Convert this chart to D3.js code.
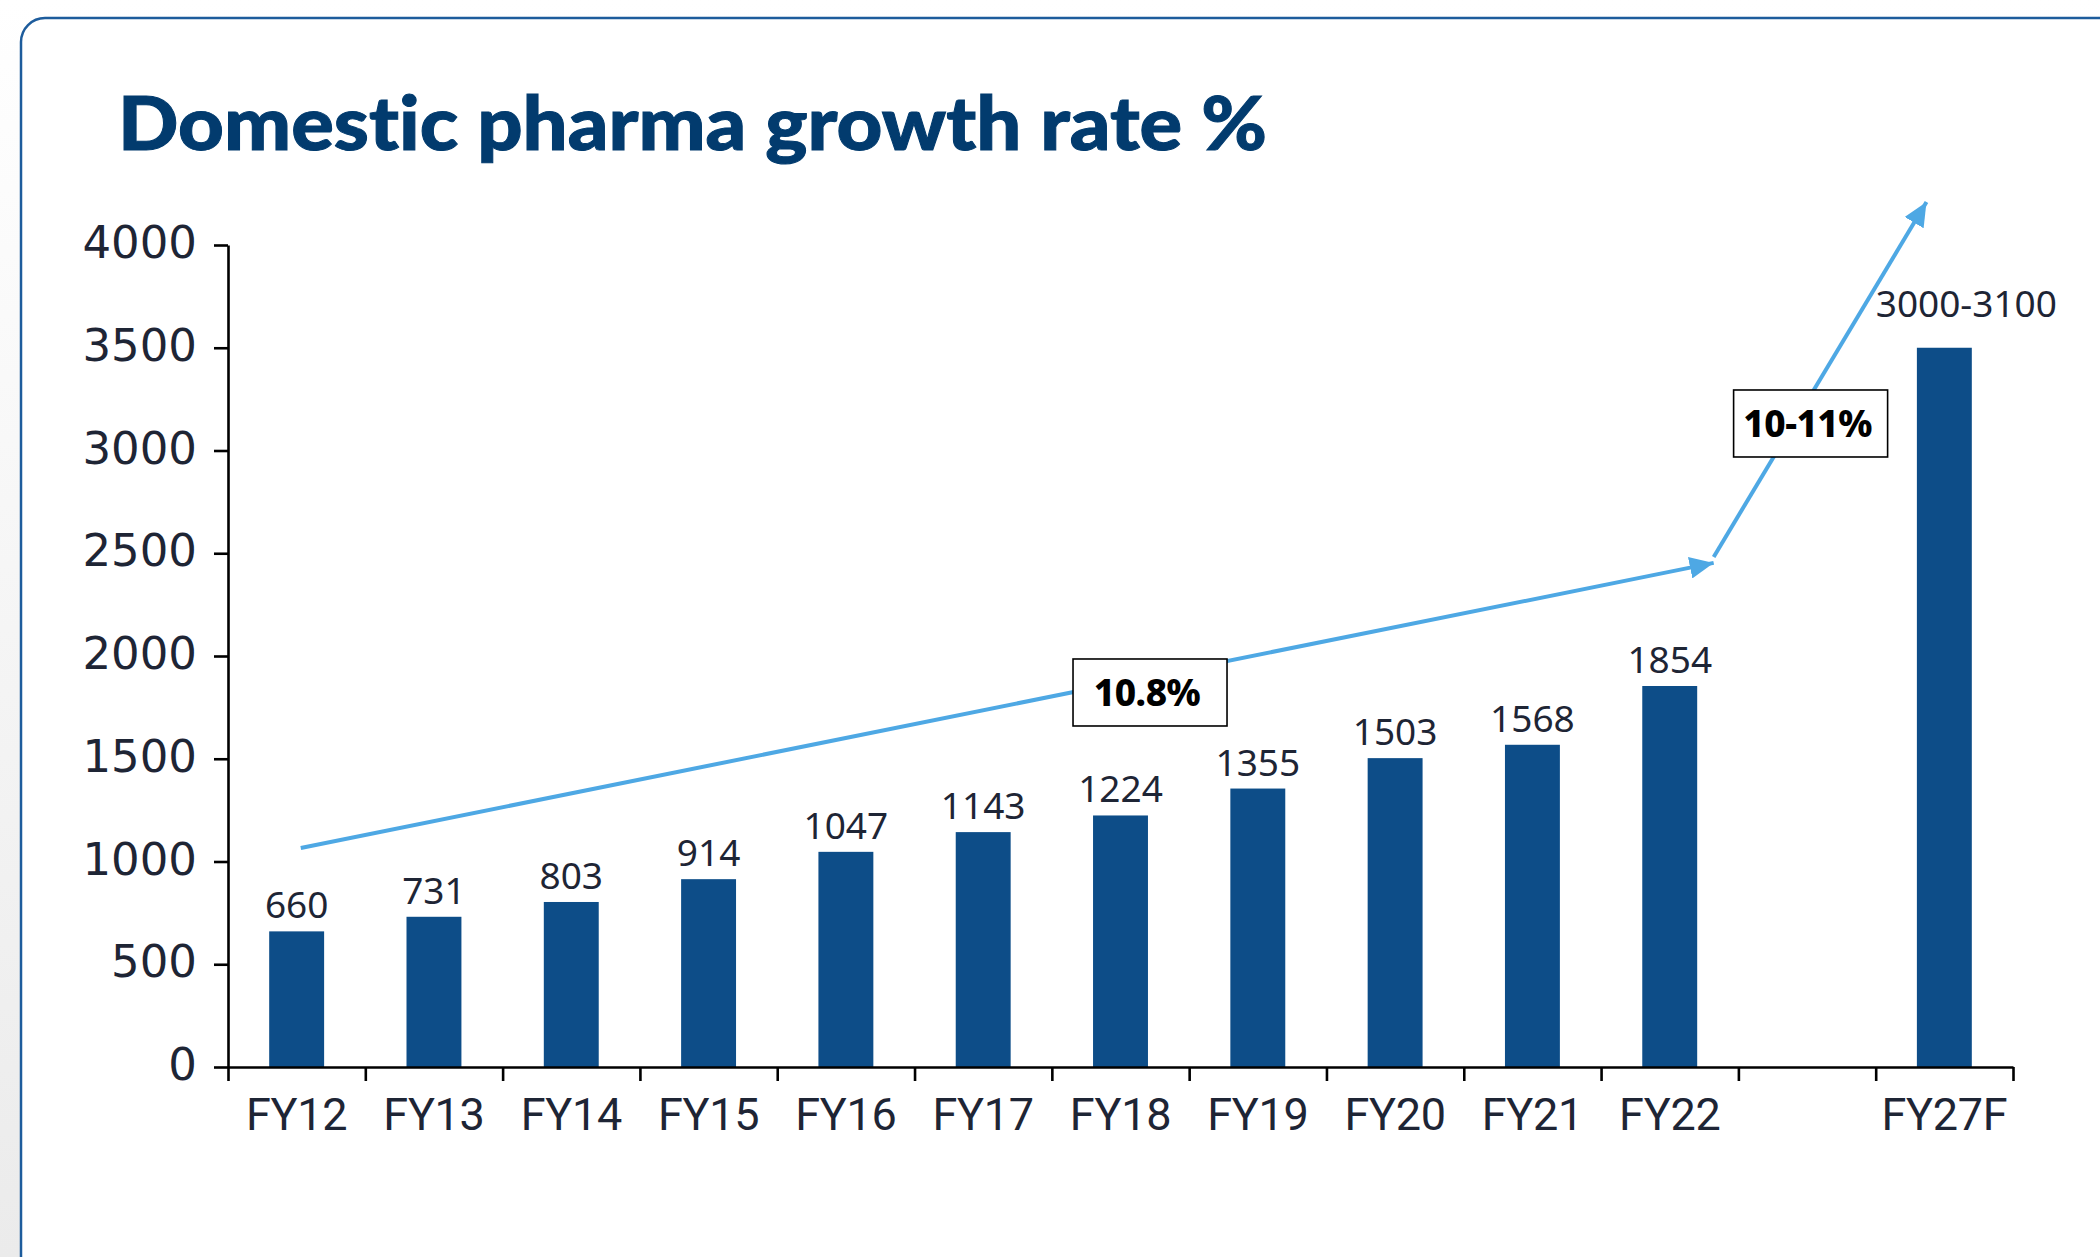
<!DOCTYPE html>
<html>
<head>
<meta charset="utf-8">
<script src="https://cdn.jsdelivr.net/npm/d3@7"></script>
<style>
  html, body { margin: 0; padding: 0; background: #ffffff; }
  svg { display: block; }
  text { font-variant-ligatures: none; }
</style>
</head>
<body>
<script>
// ---------- data ----------
const title = "Domestic pharma growth rate %";
const categories = ["FY12","FY13","FY14","FY15","FY16","FY17","FY18","FY19","FY20","FY21","FY22"," ","FY27F"];
const values = [660, 731, 803, 914, 1047, 1143, 1224, 1355, 1503, 1568, 1854, null, 3500];
const valueLabels = ["660","731","803","914","1047","1143","1224","1355","1503","1568","1854","","3000-3100"];
const yTicks = [0, 500, 1000, 1500, 2000, 2500, 3000, 3500, 4000];
// trend arrows: [slot position along x (in category units), value]
const trendHist = [[0.53, 1066], [10.82, 2453]];
const trendFcst = [[10.82, 2482], [12.37, 4209]];
// CAGR callouts: [slot position, value, text]
const callouts = [[6.715, 1820, "10.8%"], [11.526, 3129, "10-11%"]];

// ---------- layout ----------
const W = 2100, H = 1257;
const mLeft = 228, mRight = 2013, mTop = 245, mBottom = 1067;

const svg = d3.select("body").append("svg").attr("width", W).attr("height", H);
const defs = svg.append("defs");
const bg = defs.append("linearGradient").attr("id", "bg").attr("x1", 0).attr("y1", 0).attr("x2", 0).attr("y2", 1);
bg.append("stop").attr("offset", "0%").attr("stop-color", "#ffffff");
bg.append("stop").attr("offset", "100%").attr("stop-color", "#ebebeb");
svg.append("rect").attr("width", W).attr("height", H).attr("fill", "url(#bg)");

// panel card
svg.append("rect").attr("x", 21).attr("y", 18).attr("width", 2300).attr("height", 1500)
  .attr("rx", 24).attr("fill", "#ffffff").attr("stroke", "#1d5c9c").attr("stroke-width", 2.5);

// title
svg.append("text").attr("x", 118).attr("y", 150)
  .attr("font-family", "Lato, 'Noto Sans', sans-serif").attr("font-weight", 900)
  .attr("font-size", 75).attr("fill", "#023b6e")
  .attr("stroke", "#023b6e").attr("stroke-width", 1)
  .attr("textLength", 1149).attr("lengthAdjust", "spacingAndGlyphs")
  .text(title);

// scales
const x = d3.scaleBand().domain(categories).range([mLeft, mRight]).padding(0);
const slot = d3.scaleLinear().domain([0, categories.length]).range([mLeft, mRight]);
const y = d3.scaleLinear().domain([0, 4000]).range([mBottom, mTop]);
const bw = x.bandwidth();
const barW = bw * 0.4;

const rows = categories.map((c, i) => ({c, v: values[i], l: valueLabels[i]})).filter(d => d.v != null);

// bars
svg.append("g").selectAll("rect")
  .data(rows)
  .join("rect")
  .attr("x", d => x(d.c) + (bw - barW) / 2)
  .attr("y", d => y(d.v))
  .attr("width", barW)
  .attr("height", d => y(0) - y(d.v))
  .attr("fill", "#0d4d88");

// value labels
svg.append("g").selectAll("text")
  .data(rows)
  .join("text")
  .attr("x", d => x(d.c) + bw / 2 + (d.l.includes("-") ? 22 : 0))
  .attr("y", d => y(d.v) - (d.l.includes("-") ? 31 : 13))
  .attr("text-anchor", "middle")
  .attr("font-family", "'Noto Sans', sans-serif").attr("font-size", 37)
  .attr("fill", "#1e2535")
  .text(d => d.l);

// y axis
const yAxis = svg.append("g").attr("transform", `translate(${mLeft},0)`)
  .call(d3.axisLeft(y).tickValues(yTicks).tickFormat(d => String(d)).tickSize(14).tickSizeOuter(0).tickPadding(17));
yAxis.selectAll("text").attr("font-family", "'DejaVu Sans', sans-serif").attr("font-size", 45)
  .attr("fill", "#1e2535").attr("dy", "0.28em");
yAxis.selectAll("line, path").attr("stroke", "#000").attr("stroke-width", 2.6);

// x axis: boundary ticks
const xTicksG = svg.append("g").attr("transform", `translate(0,${mBottom})`)
  .call(d3.axisBottom(slot).tickValues(d3.range(0, categories.length + 1)).tickFormat("").tickSize(14).tickSizeOuter(0));
xTicksG.selectAll("line, path").attr("stroke", "#000").attr("stroke-width", 2.6);

// x axis labels
const xLab = svg.append("g").attr("transform", `translate(0,${mBottom})`)
  .call(d3.axisBottom(x).tickSize(0).tickPadding(31));
xLab.select(".domain").remove();
xLab.selectAll("text").attr("font-family", "Roboto, sans-serif").attr("font-size", 45)
  .attr("fill", "#1e2535").attr("letter-spacing", -0.3);

// arrow marker
defs.append("marker").attr("id", "arrow").attr("markerUnits", "userSpaceOnUse")
  .attr("viewBox", "0 0 24 22").attr("refX", 24).attr("refY", 11)
  .attr("markerWidth", 24).attr("markerHeight", 22).attr("orient", "auto")
  .append("path").attr("d", "M0,0 L24,11 L0,22 Z").attr("fill", "#4ea8e4");

const line = d3.line().x(d => slot(d[0])).y(d => y(d[1]));
[trendHist, trendFcst].forEach(t => {
  svg.append("path").datum(t).attr("d", line)
    .attr("fill", "none").attr("stroke", "#4ea8e4").attr("stroke-width", 4)
    .attr("marker-end", "url(#arrow)");
});

// callout boxes
const cg = svg.append("g").selectAll("g").data(callouts).join("g")
  .attr("transform", d => `translate(${slot(d[0])},${y(d[1])})`);
cg.append("rect").attr("x", -77).attr("y", -34).attr("width", 154).attr("height", 67)
  .attr("fill", "#ffffff").attr("stroke", "#000").attr("stroke-width", 1.6);
cg.append("text").attr("x", -3).attr("y", 13).attr("text-anchor", "middle")
  .attr("font-family", "'Noto Sans', sans-serif").attr("font-weight", 800)
  .attr("font-size", 37).attr("fill", "#000").attr("letter-spacing", -0.5)
  .text(d => d[2]);
</script>
</body>
</html>
